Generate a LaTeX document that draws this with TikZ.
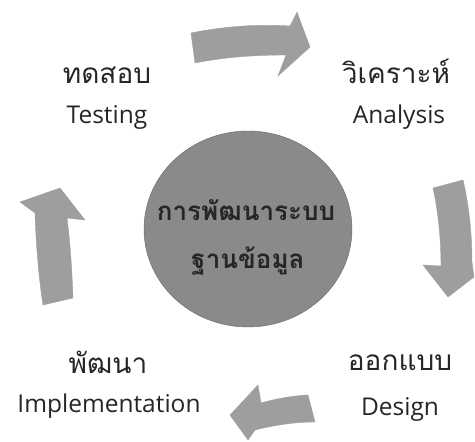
\documentclass[tikz,border=0pt]{standalone}
\usepackage{fontspec}
\setmainfont{Open Sans}
\newfontfamily\thaifont[Script=Thai]{Loma}
\usetikzlibrary{shapes.geometric}

\definecolor{arrowgray}{gray}{0.62}
\definecolor{discgray}{gray}{0.54}

\tikzset{
  thlabel/.style={font=\thaifont\fontsize{28}{32}\selectfont, anchor=base, text=black!85},
  enlabel/.style={font=\fontsize{24.5}{29}\selectfont, anchor=base, text=black!85},
  coretext/.style={font=\thaifont\bfseries\fontsize{26}{30}\selectfont, anchor=base, text=black!85},
  blockarrow/.style={fill=arrowgray, draw=arrowgray, line join=round},
}

\begin{document}
\begin{tikzpicture}[x=1pt,y=-1pt]  % pixel-like units, y running down
    % Fix the frame
    \useasboundingbox (0,0) rectangle (475,442);

    % Draw the centre disc and its two lines
    \node[ellipse, draw=black!60, fill=discgray, minimum width=208pt, minimum height=196pt, inner sep=0pt]
          (core) at (248,229) {};
    \node[coretext] (coretop) at (246,220) {การพัฒนาระบบ};
    \node[coretext] (corebot) at (248,268) {ฐานข้อมูล};

    % Draw the four curved block arrows
    \filldraw[blockarrow] (191,33) .. controls (225,26) and (260,24) .. (290,26) -- (297,12) -- (310,47)
        -- (278,76) -- (286,55) .. controls (255,55) and (225,57) .. (195,63) -- cycle;
    \filldraw[blockarrow] (433,188) -- (463,180) .. controls (469,205) and (472,235) .. (472,262)
        -- (474,277) -- (448,297) -- (423,265) -- (441,266) .. controls (441,240) and (438,210) .. (433,188) -- cycle;
    \filldraw[blockarrow] (308,395) -- (315,422) .. controls (295,422) and (275,425) .. (255,430)
        -- (248,440) -- (230,415) -- (258,385) -- (261,403) .. controls (275,399) and (290,396) .. (308,395) -- cycle;
    \filldraw[blockarrow] (43,305) -- (73,298) .. controls (72,270) and (70,240) .. (67,218)
        -- (85,220) -- (60,188) -- (20,202) -- (35,213) .. controls (36,245) and (39,280) .. (43,305) -- cycle;

    % Draw the stage labels, Thai above English
    \node[thlabel] (testth) at (107,83) {ทดสอบ};
    \node[enlabel] (testen) at (107,123) {Testing};
    \node[thlabel] (anath) at (396,83) {วิเคราะห์};
    \node[enlabel] (anaen) at (399,123) {Analysis};
    \node[thlabel] (implth) at (108,373) {พัฒนา};
    \node[enlabel] (implen) at (109,412) {Implementation};
    \node[thlabel] (desth) at (400,370) {ออกแบบ};
    \node[enlabel] (desen) at (400,415) {Design};

\end{tikzpicture}
\end{document}
